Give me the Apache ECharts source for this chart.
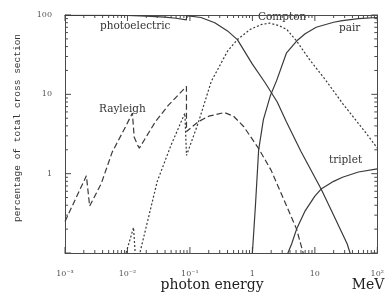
<!DOCTYPE html>
<html>
<head>
<meta charset="utf-8">
<script src="https://cdn.jsdelivr.net/npm/echarts@6/dist/echarts.min.js"></script>
<style>
  html, body { margin: 0; padding: 0; background: #fff; }
  #chart { width: 387px; height: 298px; }
</style>
</head>
<body>
<div id="chart"></div>
<script>
// photon energy in MeV, share of total cross section in %
var photoE   = [0.001, 0.005, 0.01, 0.02, 0.04, 0.06, 0.088, 0.0881, 0.15, 0.25, 0.4, 0.575, 1.0, 1.6, 2.5, 3.5, 6, 12.6, 20, 33, 40];
var photoPct = [99, 99, 98.5, 97, 94, 91, 87, 98, 93, 80, 63, 49, 24, 14, 8, 4.5, 1.9, 0.64, 0.3, 0.13, 0.08];

var comptonE   = [0.009, 0.0095, 0.0125, 0.0133, 0.014, 0.0152, 0.0158, 0.03, 0.05, 0.083, 0.0881, 0.135, 0.22, 0.4, 0.575, 0.93, 1.4, 1.9, 2.6, 3.54, 5.1, 8.2, 15, 27.7, 65, 100];
var comptonPct = [0.08, 0.1, 0.21, 0.1, 0.07, 0.07, 0.1, 0.8, 2.3, 5.8, 1.7, 4.3, 14.6, 35, 49, 66, 76, 79, 74, 66, 47, 27.5, 15, 7.7, 3.3, 2.1];

var rayleighE   = [0.001, 0.0022, 0.00235, 0.00248, 0.0038, 0.0057, 0.0093, 0.012, 0.0128, 0.0136, 0.0145, 0.0155, 0.0279, 0.0453, 0.088, 0.0881, 0.135, 0.2, 0.355, 0.5, 0.73, 1.26, 2, 3.54, 5.1, 6.5, 7];
var rayleighPct = [0.25, 0.94, 0.95, 0.39, 0.75, 1.87, 3.9, 5.8, 2.9, 3.0, 2.3, 2.1, 4.5, 7.3, 12.6, 3.4, 4.5, 5.3, 5.9, 5.3, 3.9, 2.07, 1.1, 0.39, 0.2, 0.1, 0.08];

var pairE   = [1.0, 1.12, 1.26, 1.5, 1.93, 2.45, 3.5, 5.1, 7, 10.5, 20, 27.6, 50, 100];
var pairPct = [0.1, 0.4, 2.0, 4.8, 9.5, 15, 33, 47, 58, 70, 81, 85, 90, 93];

var tripletE   = [3.7, 4.25, 5.1, 7, 10, 12.6, 20, 27.7, 50, 100];
var tripletPct = [0.1, 0.13, 0.2, 0.34, 0.52, 0.64, 0.8, 0.9, 1.05, 1.15];

var xLabels = ['10\u207B\u00B3', '10\u207B\u00B2', '10\u207B\u00B9', '1', '10', '10\u00B2'];

function pairs(xs, ys) {
  return xs.map(function (x, i) { return [x, ys[i]]; });
}

// tick values per decade: major at 1, minor at 2..9
var xMajor = [], yMajor = [], xMinor = [], yMinor = [];
for (var d = -3; d <= 2; d++) {
  xMajor.push(Math.pow(10, d));
  if (d >= -1) yMajor.push(Math.pow(10, d));
  if (d === 2) break;
  for (var k = 2; k < 10; k++) {
    xMinor.push(+(k * Math.pow(10, d)).toPrecision(3));
    if (d >= -1) yMinor.push(+(k * Math.pow(10, d)).toPrecision(3));
  }
}

var ink = '#3a3a3a';
var frame = '#4a4a4a';

function curve(name, data, dash) {
  return {
    name: name,
    type: 'line',
    data: data,
    showSymbol: false,
    lineStyle: { color: ink, width: 1.2, type: dash }
  };
}

// side: 'bottom' | 'top' | 'left' | 'right'
function ticks(values, side, len) {
  var vertical = side === 'left' || side === 'right';
  return {
    type: 'custom',
    silent: true,
    clip: false,
    data: values.map(function (v) { return vertical ? [1, v] : [v, 1]; }),
    renderItem: function (params, api) {
      var p = api.coord([api.value(0), api.value(1)]);
      var cs = params.coordSys;
      var shape;
      if (side === 'bottom') shape = { x1: p[0], y1: cs.y + cs.height, x2: p[0], y2: cs.y + cs.height - len };
      else if (side === 'top') shape = { x1: p[0], y1: cs.y, x2: p[0], y2: cs.y + len };
      else if (side === 'left') shape = { x1: cs.x, y1: p[1], x2: cs.x + len, y2: p[1] };
      else shape = { x1: cs.x + cs.width, y1: p[1], x2: cs.x + cs.width - len, y2: p[1] };
      return { type: 'line', shape: shape, style: { stroke: frame, lineWidth: 1 } };
    }
  };
}

var hidden = { show: true, lineStyle: { color: 'rgba(0,0,0,0)' } };

var myChart = echarts.init(document.getElementById('chart'));
var option = {
  backgroundColor: '#fff',
  animation: false,
  grid: { left: 65, right: 5, top: 15, bottom: 45 },
  xAxis: [{
    type: 'log', min: 0.001, max: 100, position: 'bottom',
    axisLine: { show: true, lineStyle: { color: frame, width: 1 } },
    axisTick: { show: false },
    axisLabel: {
      margin: 17,
      fontFamily: 'DejaVu Serif',
      fontSize: 8,
      color: '#555',
      formatter: function (v) { return xLabels[Math.round(Math.log(v) / Math.LN10) + 3] || ''; }
    },
    splitLine: hidden
  }, {
    type: 'log', min: 0.001, max: 100, position: 'top',
    axisLine: { show: true, lineStyle: { color: frame, width: 1 } },
    axisTick: { show: false },
    axisLabel: { show: false },
    splitLine: hidden
  }],
  yAxis: [{
    type: 'log', min: 0.1, max: 100, position: 'left',
    axisLine: { show: true, lineStyle: { color: frame, width: 1 } },
    axisTick: { show: false },
    axisLabel: {
      margin: 13,
      fontFamily: 'DejaVu Serif',
      fontSize: 8,
      color: '#555',
      formatter: function (v) { return v >= 1 ? String(Math.round(v)) : ''; }
    },
    splitLine: hidden
  }, {
    type: 'log', min: 0.1, max: 100, position: 'right',
    axisLine: { show: true, lineStyle: { color: frame, width: 1 } },
    axisTick: { show: false },
    axisLabel: { show: false },
    splitLine: hidden
  }],
  series: [
    curve('photoelectric', pairs(photoE, photoPct), 'solid'),
    curve('Compton', pairs(comptonE, comptonPct), [2, 2]),
    curve('Rayleigh', pairs(rayleighE, rayleighPct), [6, 3]),
    curve('pair', pairs(pairE, pairPct), 'solid'),
    curve('triplet', pairs(tripletE, tripletPct), 'solid'),
    ticks(xMajor, 'bottom', 6),
    ticks(xMajor, 'top', 6),
    ticks(yMajor, 'left', 6),
    ticks(yMajor, 'right', 6),
    ticks(xMinor, 'bottom', 3),
    ticks(xMinor, 'top', 3),
    ticks(yMinor, 'left', 3),
    ticks(yMinor, 'right', 3)
  ],
  graphic: [
    { type: 'text', x: 17, y: 128, rotation: Math.PI / 2, style: { text: 'percentage of total cross section', font: '9.5px "Liberation Mono"', fill: '#333', align: 'center', verticalAlign: 'middle' } },
    { type: 'text', x: 212, y: 285, style: { text: 'photon energy', font: '14px "DejaVu Serif"', fill: '#222', align: 'center', verticalAlign: 'middle' } },
    { type: 'text', x: 368, y: 285, style: { text: 'MeV', font: '14px "DejaVu Serif"', fill: '#222', align: 'center', verticalAlign: 'middle' } },
    { type: 'text', x: 100, y: 21, style: { text: 'photoelectric', font: '10.5px "DejaVu Serif"', fill: '#333' } },
    { type: 'text', x: 99, y: 104, style: { text: 'Rayleigh', font: '10.5px "DejaVu Serif"', fill: '#333' } },
    { type: 'text', x: 258, y: 12, style: { text: 'Compton', font: '10.5px "DejaVu Serif"', fill: '#333' } },
    { type: 'text', x: 339, y: 23, style: { text: 'pair', font: '10.5px "DejaVu Serif"', fill: '#333' } },
    { type: 'text', x: 329, y: 155, style: { text: 'triplet', font: '10.5px "DejaVu Serif"', fill: '#333' } }
  ]
};
myChart.setOption(option);
</script>
</body>
</html>
